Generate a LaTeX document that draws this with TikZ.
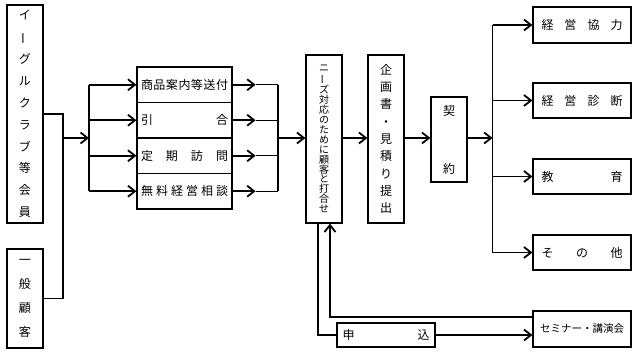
\documentclass[tikz,border=0pt]{standalone}
\usepackage{fontspec}
\usepackage{graphicx}
\setmainfont{Noto Sans CJK JP}
\usetikzlibrary{arrows.meta}
\newcommand{\vbar}{\rotatebox[origin=c]{90}{ー}}
\newcommand{\spreadtext}[2]{\makebox[#1][s]{#2}}
\begin{document}
\begin{tikzpicture}[x=1pt,y=-1pt,
  box/.style={draw, line width=1.2pt, inner sep=0pt, align=center, font=\fontsize{12}{14}\selectfont},
  arr/.style={line width=1.8pt, -{Straight Barb[length=7pt,width=11pt]}},
  ln/.style={line width=1.1pt},
]
\useasboundingbox (0,0) rectangle (637,353);
% left boxes
\node[box, minimum width=36pt, minimum height=218pt, font=\fontsize{12}{21.9}\selectfont] (m1) at (25,114)
  {イ\\\vbar\\グ\\ル\\ク\\ラ\\ブ\\等\\会\\員};
\node[box, minimum width=36pt, minimum height=99pt, font=\fontsize{12}{24}\selectfont] (g1) at (25,298.5)
  {一\\般\\顧\\客};
% middle stack
\node[box, minimum width=95pt, minimum height=35.5pt] (s1) at (184.5,84.75) {\spreadtext{87pt}{商\hfill 品\hfill 案\hfill 内\hfill 等\hfill 送\hfill 付}};
\node[box, minimum width=95pt, minimum height=35.5pt] (s2) at (184.5,120.25) {\spreadtext{87pt}{引\hfill 合}};
\node[box, minimum width=95pt, minimum height=35.5pt] (s3) at (184.5,155.75) {\spreadtext{87pt}{定\hfill 期\hfill 訪\hfill 問}};
\node[box, minimum width=95pt, minimum height=35.5pt] (s4) at (184.5,191.25) {\spreadtext{87pt}{無\hfill 料\hfill 経\hfill 営\hfill 相\hfill 談}};
% flow boxes
\node[box, minimum width=36pt, minimum height=168pt, font=\fontsize{10}{9.9}\selectfont] (n) at (324,139)
  {ニ\\\vbar\\ズ\\対\\応\\の\\た\\め\\に\\顧\\客\\と\\打\\合\\せ};
\node[box, minimum width=36pt, minimum height=168pt, font=\fontsize{12}{17.3}\selectfont] (k) at (386,139)
  {企\\画\\書\\・\\見\\積\\り\\提\\出};
\node[box, minimum width=36pt, minimum height=85pt, font=\fontsize{12}{58}\selectfont] (c) at (449,139.5)
  {契\\約};
% right boxes
\node[box, minimum width=98pt, minimum height=36pt] (r1) at (582,25) {\spreadtext{81pt}{経\hfill 営\hfill 協\hfill 力}};
\node[box, minimum width=98pt, minimum height=35pt] (r2) at (582,100.5) {\spreadtext{81pt}{経\hfill 営\hfill 診\hfill 断}};
\node[box, minimum width=98pt, minimum height=35pt] (r3) at (582,176.5) {\spreadtext{81pt}{教\hfill 育}};
\node[box, minimum width=98pt, minimum height=35pt] (r4) at (582,252.5) {\spreadtext{81pt}{そ\hfill の\hfill 他}};
\node[box, minimum width=98pt, minimum height=36pt, font=\fontsize{10.5}{12}\selectfont] (sem) at (582,329) {セミナー・講演会};
\node[box, minimum width=98pt, minimum height=24pt] (mo) at (386,335) {\spreadtext{87pt}{申\hfill 込}};
% left connections
\coordinate (j1) at (63,138);
\coordinate (j2) at (89,138);
\draw[ln] (m1.east) -- (m1.east -| j1) -- (g1.east -| j1) -- (g1.east);
\draw[arr] (j1) -- (j2);
\draw[ln] (j2 |- s1.west) -- (j2 |- s4.west);
\foreach \s in {s1,s2,s3,s4} {
  \draw[arr] (j2 |- \s.west) -- (\s.west);
}
\coordinate (j3) at (278,138);
\foreach \s in {s1,s2,s3,s4} {
  \draw[arr] (\s.east) -- ++(23,0) coordinate (t\s);
  \draw[ln] (t\s) -- (t\s -| j3);
}
\draw[ln] (j3 |- s1.east) -- (j3 |- s4.east);
\draw[arr] (j3) -- (n.west |- j3);
% main flow
\draw[arr] (n.east |- j3) -- (k.west |- j3);
\draw[arr] (k.east |- j3) -- (c.west |- j3);
\draw[arr] (c.east |- j3) -- ++(25,0) coordinate (j4);
\draw[ln] (j4 |- r1.west) -- (j4 |- r4.west);
\foreach \r in {r1,r2,r3,r4} {
  \draw[arr] (j4 |- \r.west) -- (\r.west);
}
% seminar loop
\draw[arr] ([yshift=12pt]sem.west) -| ([xshift=6pt]n.south);
\draw[ln] ([xshift=-6pt]n.south) |- (mo.west);
\draw[arr] (mo.east) -- (mo.east -| sem.west);
\end{tikzpicture}
\end{document}
